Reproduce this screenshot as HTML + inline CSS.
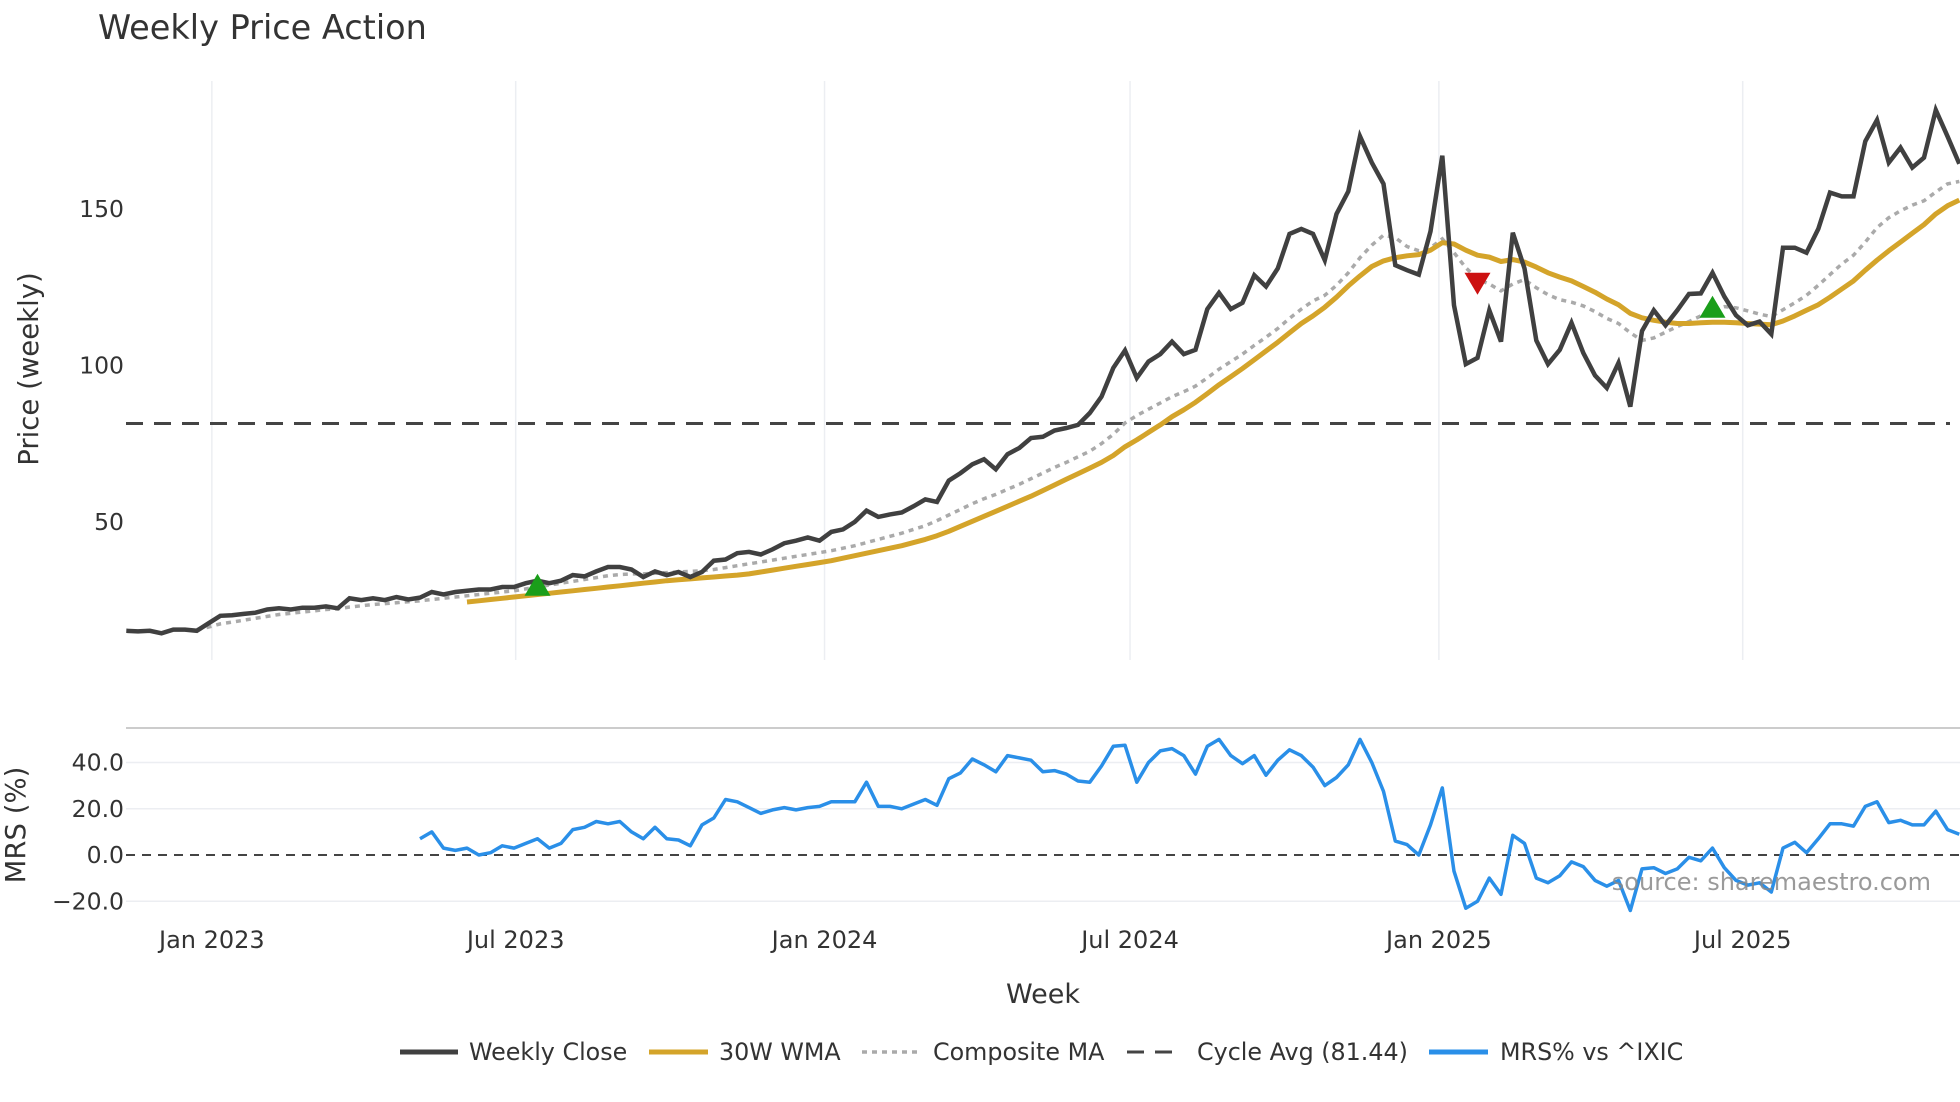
<!DOCTYPE html>
<html><head><meta charset="utf-8"><style>
body{margin:0;background:#fff;}
svg{display:block;font-family:"DejaVu Sans","Liberation Sans",sans-serif;}
</style></head><body>
<svg id="chart" width="1960" height="1102" viewBox="0 0 1960 1102" xmlns="http://www.w3.org/2000/svg">
<text x="98" y="39" font-size="33.5" fill="#333">Weekly Price Action</text>
<g id="grid"></g>
<g id="marks"></g>
<g id="axes"></g>
<text transform="translate(38,369) rotate(-90)" text-anchor="middle" font-size="27.5" fill="#333">Price (weekly)</text>
<text transform="translate(25,825) rotate(-90)" text-anchor="middle" font-size="27.5" fill="#333">MRS (%)</text>
<text x="1043" y="1003" text-anchor="middle" font-size="27" fill="#333">Week</text>
<g>
 <g><line x1="400" y1="1052" x2="458" y2="1052" stroke="#404040" stroke-width="5"/><text x="469" y="1060" font-size="23.8" fill="#333">Weekly Close</text></g>
 <g><line x1="649" y1="1052" x2="708" y2="1052" stroke="#d4a42a" stroke-width="5"/><text x="719" y="1060" font-size="23.8" fill="#333">30W WMA</text></g>
 <g><line x1="862" y1="1052" x2="919" y2="1052" stroke="#aaa" stroke-width="3.5" stroke-dasharray="5,5"/><text x="933" y="1060" font-size="23.8" fill="#333">Composite MA</text></g>
 <g><line x1="1127" y1="1052" x2="1181" y2="1052" stroke="#444" stroke-width="3" stroke-dasharray="17,11"/><text x="1197" y="1060" font-size="23.8" fill="#333">Cycle Avg (81.44)</text></g>
 <g><line x1="1429" y1="1052" x2="1488" y2="1052" stroke="#2a8fe8" stroke-width="5"/><text x="1500" y="1060" font-size="23.8" fill="#333">MRS% vs ^IXIC</text></g>
</g>
<text x="1931" y="890" text-anchor="end" font-size="24" fill="#888" fill-opacity="0.85">source: sharemaestro.com</text>
</svg>
<script>
const startDate = "2022-11-11";
const closeVals = [15.2,15.0,15.2,14.4,15.6,15.6,15.2,17.6,20.0,20.2,20.6,21.0,22.0,22.4,22.0,22.6,22.6,23.0,22.4,25.6,25.0,25.6,25.0,26.0,25.2,25.8,27.6,26.8,27.6,28.0,28.4,28.4,29.2,29.2,30.4,31.2,30.4,31.2,33.0,32.6,34.2,35.6,35.6,34.8,32.4,34.2,33.0,34.0,32.4,34.0,37.6,38.0,40.0,40.4,39.6,41.2,43.2,44.0,45.0,44.0,46.8,47.6,50.0,53.6,51.6,52.4,53.0,55.0,57.2,56.4,63.2,65.6,68.4,70.0,66.8,71.6,73.6,76.8,77.2,79.2,80.0,81.0,84.8,90.0,99.2,104.8,96.0,101.2,103.6,107.6,103.6,105.0,118.0,123.2,118.0,120.0,128.8,125.2,131.0,142.0,143.6,142.0,133.6,148.4,155.6,173.2,164.8,158.0,132.0,130.4,129.0,142.8,167.0,119.2,100.4,102.4,117.6,107.6,142.4,131.0,108.0,100.4,105.0,113.6,104.0,96.8,92.8,100.8,86.8,111.0,117.6,112.8,117.6,122.8,123.0,129.6,122.0,116.0,112.8,114.0,110.0,137.6,137.6,136.0,143.6,155.2,154.0,154.0,171.6,178.4,164.8,169.6,163.2,166.4,181.6,173.2,164.4];
const wmaStart = 29;
const wmaVals = [24.4,24.8,25.2,25.6,26.0,26.4,26.8,27.2,27.6,28.0,28.4,28.8,29.2,29.6,30.0,30.4,30.8,31.2,31.5,31.8,32.1,32.4,32.7,33.0,33.4,34.0,34.6,35.2,35.8,36.4,37.0,37.6,38.4,39.2,40.0,40.8,41.6,42.4,43.4,44.4,45.6,47.0,48.6,50.2,51.8,53.4,55.0,56.6,58.2,60.0,61.8,63.6,65.4,67.2,69.0,71.2,74.0,76.2,78.6,81.0,83.6,85.8,88.2,91.0,93.8,96.4,99.0,101.8,104.6,107.4,110.4,113.4,115.8,118.6,121.8,125.4,128.6,131.6,133.4,134.4,135.0,135.4,136.8,139.2,138.8,136.8,135.2,134.6,133.2,133.8,133.0,131.4,129.6,128.2,127.0,125.2,123.4,121.2,119.4,116.6,115.2,114.4,113.8,113.4,113.4,113.6,113.8,113.8,113.6,113.4,113.2,113.0,114.2,115.8,117.6,119.4,121.8,124.4,127.0,130.4,133.6,136.6,139.4,142.2,145.0,148.4,151.0,152.8];
const compStart = 6;
const compVals = [15.6,16.4,17.4,18.0,18.6,19.2,19.8,20.4,20.8,21.2,21.6,22.0,22.2,22.8,23.2,23.6,23.9,24.2,24.5,24.8,25.2,25.6,26.0,26.4,26.8,27.2,27.6,28.0,28.6,29.2,29.8,30.4,31.0,31.6,32.2,32.8,33.2,33.4,33.4,33.6,33.8,34.0,34.2,34.4,34.8,35.4,36.0,36.6,37.2,37.8,38.4,39.0,39.6,40.2,40.8,41.6,42.4,43.4,44.4,45.4,46.4,47.6,48.8,50.4,52.2,54.0,55.8,57.4,58.8,60.4,62.0,63.8,65.6,67.4,69.0,70.8,72.6,75.0,78.0,81.6,84.0,86.0,88.0,90.0,91.6,93.4,96.0,98.8,101.2,103.6,106.4,109.0,111.8,115.0,118.0,120.6,122.4,125.6,129.6,134.4,138.4,141.6,140.8,138.0,136.6,137.6,140.4,136.0,131.2,127.6,126.0,123.8,126.0,127.4,124.8,122.6,121.0,120.2,119.0,117.2,115.0,113.4,110.4,108.0,108.8,110.6,112.4,114.0,115.8,117.8,118.8,118.4,117.4,116.4,115.6,117.8,120.0,122.4,125.6,129.0,132.4,135.2,139.4,144.0,147.2,149.4,151.2,152.6,155.4,158.0,158.8];
const mrsStart = 25;
const mrsVals = [7,10,3,2,3,0,1,4,3,5,7,3,5,11,12,14.5,13.5,14.5,10,7,12,7,6.5,4,13,16,24,23,20.5,18,19.5,20.5,19.5,20.5,21,23,23,23,31.5,21,21,20,22,24,21.5,33,35.5,41.5,39,36,43,42,41,36,36.5,35,32,31.5,38.5,47,47.5,31.5,40,45,46,43,35,47,50,43,39.5,43,34.5,41,45.5,43,38,30,33.5,39,50,40,27.5,6,4.5,0,13,29,-7,-23,-20,-10,-17,8.5,5,-10,-12,-9,-3,-5,-11,-13.5,-11,-24,-6,-5.5,-8,-6,-1,-2.5,3,-5.5,-11,-13,-12,-16,3,5.5,1,7,13.5,13.5,12.5,21,23,14,15,13,13,19,11,9];
const cycleAvg = 81.44;
const signalIdx = [35,115,135];
const signalType = ["buy","sell","buy"];
const signalPrice = [29.6,126.4,118.4];
const xTickDates = ["2023-01-01","2023-07-01","2024-01-01","2024-07-01","2025-01-01","2025-07-01"];
const xTickLabels = ["Jan 2023","Jul 2023","Jan 2024","Jul 2024","Jan 2025","Jul 2025"];
const priceTicks = [50,100,150];
const mrsTicks = [-20,0,20,40];
const mrsTickLabels = ["\u221220.0","0.0","20.0","40.0"];

const NS="http://www.w3.org/2000/svg";
const X0=126.25, STEP=11.75;
function xIdx(i){return X0+i*STEP;}
function xDate(d){const days=(new Date(d+"T00:00:00Z")-new Date(startDate+"T00:00:00Z"))/86400000;return xIdx(days/7);}
function yP(p){return 678.4-p*3.13;}
function yM(v){return 855-v*2.3125;}
function mk(tag,attrs,parent){const e=document.createElementNS(NS,tag);for(const k in attrs)e.setAttribute(k,attrs[k]);parent.appendChild(e);return e;}
const grid=document.getElementById('grid'),marks=document.getElementById('marks'),axes=document.getElementById('axes');

xTickDates.forEach((d,k)=>{
  const x=xDate(d);
  const g=mk('line',{x1:x,x2:x,y1:81,y2:660,stroke:'#eceef2','stroke-width':1.5},grid);
  
  
  const t=mk('text',{x:x,y:948,'text-anchor':'middle','font-size':24,fill:'#333'},axes);
  t.textContent=xTickLabels[k];
  
  
});
priceTicks.forEach(p=>{
  const t=mk('text',{x:124,y:yP(p)+8,'text-anchor':'end','font-size':23.5,fill:'#333'},axes);
  t.textContent=String(p);
  
  
});
const sep=mk('line',{x1:126,x2:1960,y1:728,y2:728,stroke:'#ccc','stroke-width':2},grid);


mrsTicks.forEach((v,k)=>{
  if(v!==0){
    const l=mk('line',{x1:126,x2:1960,y1:yM(v),y2:yM(v),stroke:'#eceef2','stroke-width':1.5},grid);
    
    
  }
  const t=mk('text',{x:124,y:yM(v)+8,'text-anchor':'end','font-size':23.5,fill:'#333'},axes);
  t.textContent=mrsTickLabels[k];
  
  
});
function path(vals,start,yf){return vals.map((v,i)=>(i?'L':'M')+xIdx(start+i).toFixed(1)+','+yf(v).toFixed(1)).join(' ');}

const ca=mk('line',{x1:126,x2:1950,y1:yP(cycleAvg),y2:yP(cycleAvg),stroke:'#444','stroke-width':3,'stroke-dasharray':'17,11'},marks);


const zl=mk('line',{x1:126,x2:1960,y1:yM(0),y2:yM(0),stroke:'#444','stroke-width':2,'stroke-dasharray':'9,7'},marks);



const cp=mk('path',{d:path(compVals,compStart,yP),fill:'none',stroke:'#aaa','stroke-width':3.5,'stroke-dasharray':'5,5'},marks);


const wp=mk('path',{d:path(wmaVals,wmaStart,yP),fill:'none',stroke:'#d4a42a','stroke-width':5,'stroke-linejoin':'round'},marks);


const clp=mk('path',{d:path(closeVals,0,yP),fill:'none',stroke:'#404040','stroke-width':4.5,'stroke-linejoin':'miter'},marks);


const mp=mk('path',{d:path(mrsVals,mrsStart,yM),fill:'none',stroke:'#2a8fe8','stroke-width':3.5,'stroke-linejoin':'round'},marks);



signalIdx.forEach((idx,k)=>{
  const x=xIdx(idx),y=yP(signalPrice[k]);
  const pts=signalType[k]==='buy'?`${x-13},${y+10} ${x+13},${y+10} ${x},${y-12}`:`${x-13},${y-10} ${x+13},${y-10} ${x},${y+12}`;
  const m=mk('polygon',{points:pts,fill:signalType[k]==='buy'?'#1a9e1a':'#cc1111'},marks);
  
  
});
</script>
</body></html>
